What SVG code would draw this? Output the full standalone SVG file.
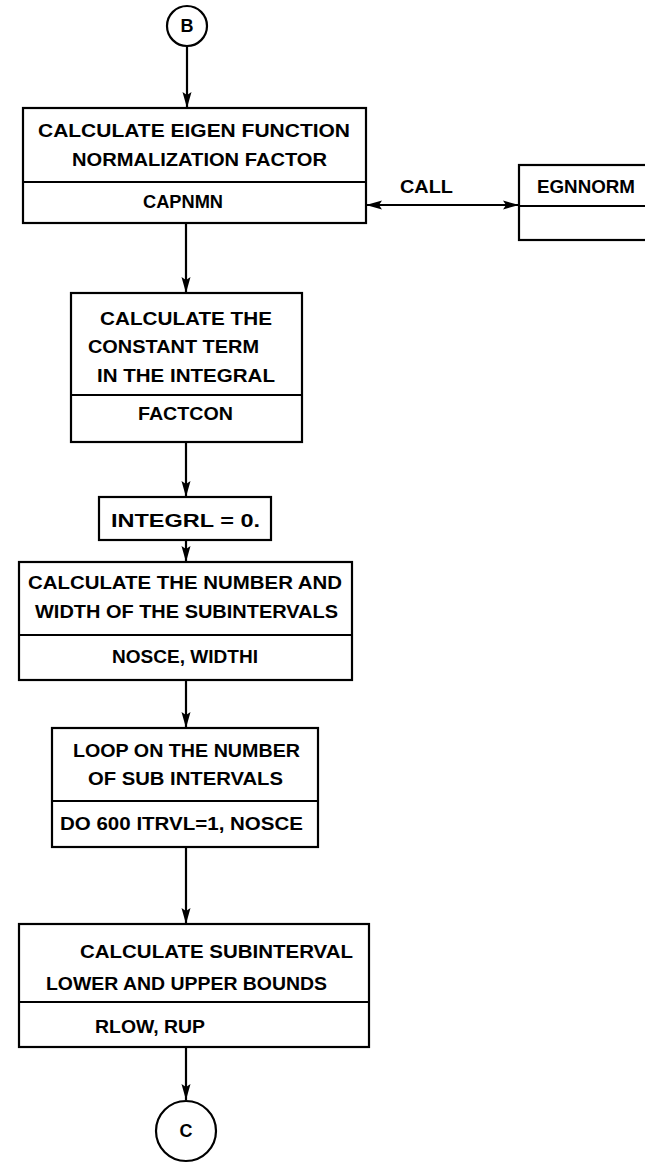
<svg xmlns="http://www.w3.org/2000/svg" width="645" height="1164" viewBox="0 0 645 1164">
<style>
.box{fill:none;stroke:#000;stroke-width:2.2}
.ln{fill:none;stroke:#000;stroke-width:2.2}
text{font-family:"Liberation Sans",Arial,sans-serif;font-weight:bold;font-size:18px;fill:#000}
</style>
<defs>
<marker id="ah" viewBox="0 0 16 10" refX="16" refY="5" markerWidth="16" markerHeight="10" markerUnits="userSpaceOnUse" orient="auto-start-reverse">
<path d="M0,0.5 L16,5 L0,9.5 L3,5 Z" fill="#000"/>
</marker>
</defs>
<rect width="645" height="1164" fill="#fff"/>
<g id="connectors">
<line class="ln" x1="187" y1="47" x2="187" y2="108" marker-end="url(#ah)"/>
<line class="ln" x1="186" y1="223" x2="186" y2="293" marker-end="url(#ah)"/>
<line class="ln" x1="186" y1="442" x2="186" y2="497" marker-end="url(#ah)"/>
<line class="ln" x1="186" y1="540" x2="186" y2="562" marker-end="url(#ah)"/>
<line class="ln" x1="186" y1="680" x2="186" y2="728" marker-end="url(#ah)"/>
<line class="ln" x1="186" y1="847" x2="186" y2="924" marker-end="url(#ah)"/>
<line class="ln" x1="186" y1="1047" x2="186" y2="1100" marker-end="url(#ah)"/>
<line class="ln" x1="366" y1="205" x2="519" y2="205" marker-start="url(#ah)" marker-end="url(#ah)"/>
<text x="400" y="193" textLength="53" lengthAdjust="spacingAndGlyphs">CALL</text>
</g>
<g id="connB">
<circle class="box" cx="187" cy="26" r="20"/>
<text x="187" y="32" text-anchor="middle" font-size="16">B</text>
</g>
<g id="box1">
<rect class="box" x="23" y="108" width="343" height="115"/>
<line class="ln" x1="23" y1="182" x2="366" y2="182"/>
<text x="38" y="137" textLength="312" lengthAdjust="spacingAndGlyphs">CALCULATE EIGEN FUNCTION</text>
<text x="72" y="166" textLength="255" lengthAdjust="spacingAndGlyphs">NORMALIZATION FACTOR</text>
<text x="143" y="208" textLength="80" lengthAdjust="spacingAndGlyphs">CAPNMN</text>
</g>
<g id="egnnorm">
<rect class="box" x="519" y="165" width="140" height="75"/>
<line class="ln" x1="519" y1="206" x2="659" y2="206"/>
<text x="537" y="193" textLength="98" lengthAdjust="spacingAndGlyphs">EGNNORM</text>
</g>
<g id="box2">
<rect class="box" x="71" y="293" width="231" height="149"/>
<line class="ln" x1="71" y1="395" x2="302" y2="395"/>
<text x="100" y="325" textLength="172" lengthAdjust="spacingAndGlyphs">CALCULATE THE</text>
<text x="88" y="353" textLength="171" lengthAdjust="spacingAndGlyphs">CONSTANT TERM</text>
<text x="97" y="382" textLength="178" lengthAdjust="spacingAndGlyphs">IN THE INTEGRAL</text>
<text x="138" y="420" textLength="95" lengthAdjust="spacingAndGlyphs">FACTCON</text>
</g>
<g id="box3">
<rect class="box" x="99" y="497" width="172" height="43"/>
<text x="111" y="527" textLength="149" lengthAdjust="spacingAndGlyphs">INTEGRL = 0.</text>
</g>
<g id="box4">
<rect class="box" x="19" y="562" width="333" height="118"/>
<line class="ln" x1="19" y1="635" x2="352" y2="635"/>
<text x="28" y="589" textLength="314" lengthAdjust="spacingAndGlyphs">CALCULATE THE NUMBER AND</text>
<text x="35" y="618" textLength="303" lengthAdjust="spacingAndGlyphs">WIDTH OF THE SUBINTERVALS</text>
<text x="112" y="663" textLength="146" lengthAdjust="spacingAndGlyphs">NOSCE, WIDTHI</text>
</g>
<g id="box5">
<rect class="box" x="52" y="728" width="266" height="119"/>
<line class="ln" x1="52" y1="801" x2="318" y2="801"/>
<text x="73" y="757" textLength="227" lengthAdjust="spacingAndGlyphs">LOOP ON THE NUMBER</text>
<text x="88" y="785" textLength="195" lengthAdjust="spacingAndGlyphs">OF SUB INTERVALS</text>
<text x="60" y="830" textLength="243" lengthAdjust="spacingAndGlyphs">DO 600 ITRVL=1, NOSCE</text>
</g>
<g id="box6">
<rect class="box" x="19" y="924" width="350" height="123"/>
<line class="ln" x1="19" y1="1002" x2="369" y2="1002"/>
<text x="80" y="958" textLength="273" lengthAdjust="spacingAndGlyphs">CALCULATE SUBINTERVAL</text>
<text x="46" y="990" textLength="281" lengthAdjust="spacingAndGlyphs">LOWER AND UPPER BOUNDS</text>
<text x="95" y="1033" textLength="110" lengthAdjust="spacingAndGlyphs">RLOW, RUP</text>
</g>
<g id="connC">
<circle class="box" cx="186" cy="1131" r="30"/>
<text x="186" y="1137" text-anchor="middle" font-size="17">C</text>
</g>
</svg>
